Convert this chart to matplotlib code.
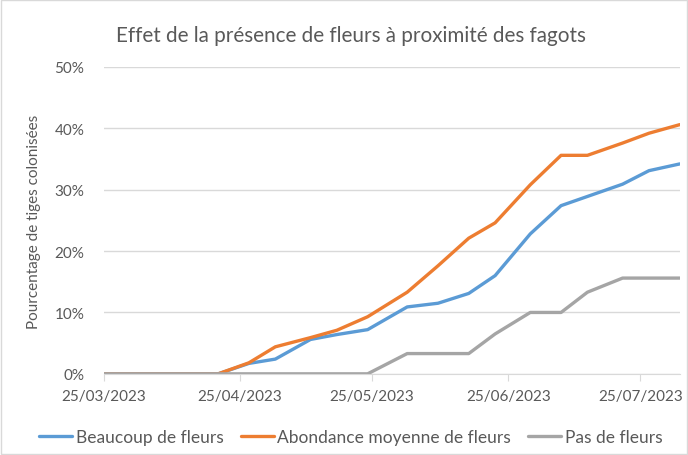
import matplotlib
matplotlib.use("Agg")
import matplotlib.pyplot as plt
import matplotlib.dates as mdates
from matplotlib.patches import Rectangle
import numpy as np
from datetime import datetime

# --- Données ---
dates = ["25/03/2023", "20/04/2023", "27/04/2023", "03/05/2023", "11/05/2023",
         "17/05/2023", "24/05/2023", "02/06/2023", "09/06/2023", "16/06/2023",
         "22/06/2023", "30/06/2023", "07/07/2023", "13/07/2023", "21/07/2023",
         "27/07/2023", "03/08/2023"]
beaucoup = [0, 0, 1.7, 2.4, 5.6, 6.4, 7.2, 10.9, 11.5, 13.1, 16.0, 22.8,
            27.4, 28.9, 30.9, 33.1, 34.2]
moyenne = [0, 0, 1.8, 4.4, 5.9, 7.1, 9.3, 13.3, 17.6, 22.1, 24.6, 30.8,
           35.6, 35.6, 37.6, 39.2, 40.6]
pas_fleurs = [0, 0, 0, 0, 0, 0, 0, 3.3, 3.3, 3.3, 6.5, 10.0,
              10.0, 13.3, 15.6, 15.6, 15.6]
tick_dates = ["25/03/2023", "25/04/2023", "25/05/2023", "25/06/2023", "25/07/2023"]

series = [
    ("Beaucoup de fleurs", beaucoup, "#5B9BD5"),
    ("Abondance moyenne de fleurs", moyenne, "#ED7D31"),
    ("Pas de fleurs", pas_fleurs, "#A5A5A5"),
]

plt.rcParams['font.family'] = ['Lato', 'DejaVu Sans']
txt = "#595959"

x = [datetime.strptime(d, "%d/%m/%Y") for d in dates]

fig = plt.figure(figsize=(6.88, 4.56), dpi=100)
ax = fig.add_axes([0.151, 0.178, 0.837, 0.673])

for nom, vals, col in series:
    ax.plot(x, np.array(vals) / 100, color=col, lw=2.4, label=nom,
            solid_capstyle='round', solid_joinstyle='round')

ax.set_ylim(0, 0.5)
ax.set_yticks(np.arange(0, 0.51, 0.1))
ax.yaxis.set_major_formatter(plt.FuncFormatter(lambda v, p: f"{v*100:.0f}%"))
ax.set_xlim(x[0], x[-1])
ax.set_xticks([datetime.strptime(d, "%d/%m/%Y") for d in tick_dates])
ax.xaxis.set_major_formatter(mdates.DateFormatter("%d/%m/%Y"))

ax.grid(axis='y', color="#D9D9D9", lw=1)
ax.set_axisbelow(True)
for s in ['top', 'right', 'left']:
    ax.spines[s].set_visible(False)
ax.spines['bottom'].set_color("#D9D9D9")
ax.tick_params(axis='y', length=0, labelsize=11, labelcolor=txt, pad=14)
ax.tick_params(axis='x', length=5, color="#D9D9D9", labelsize=11,
               labelcolor=txt, pad=6)

ax.set_ylabel("Pourcentage de tiges colonisées", fontsize=11, color=txt,
              labelpad=10)
fig.text(0.51, 0.922, "Effet de la présence de fleurs à proximité des fagots",
         ha='center', va='center', fontsize=14.9, color=txt)

fig.legend(loc='center', bbox_to_anchor=(0.51, 0.04), ncol=3, frameon=False,
           fontsize=12.5, handlelength=1.9, handletextpad=0.2, columnspacing=1.0,
           labelcolor=txt)

fig.patches.append(Rectangle((0.002, 0.002), 0.996, 0.996, transform=fig.transFigure,
                             fill=False, edgecolor="#D9D9D9", lw=1))

fig.savefig("out.png", dpi=100)
